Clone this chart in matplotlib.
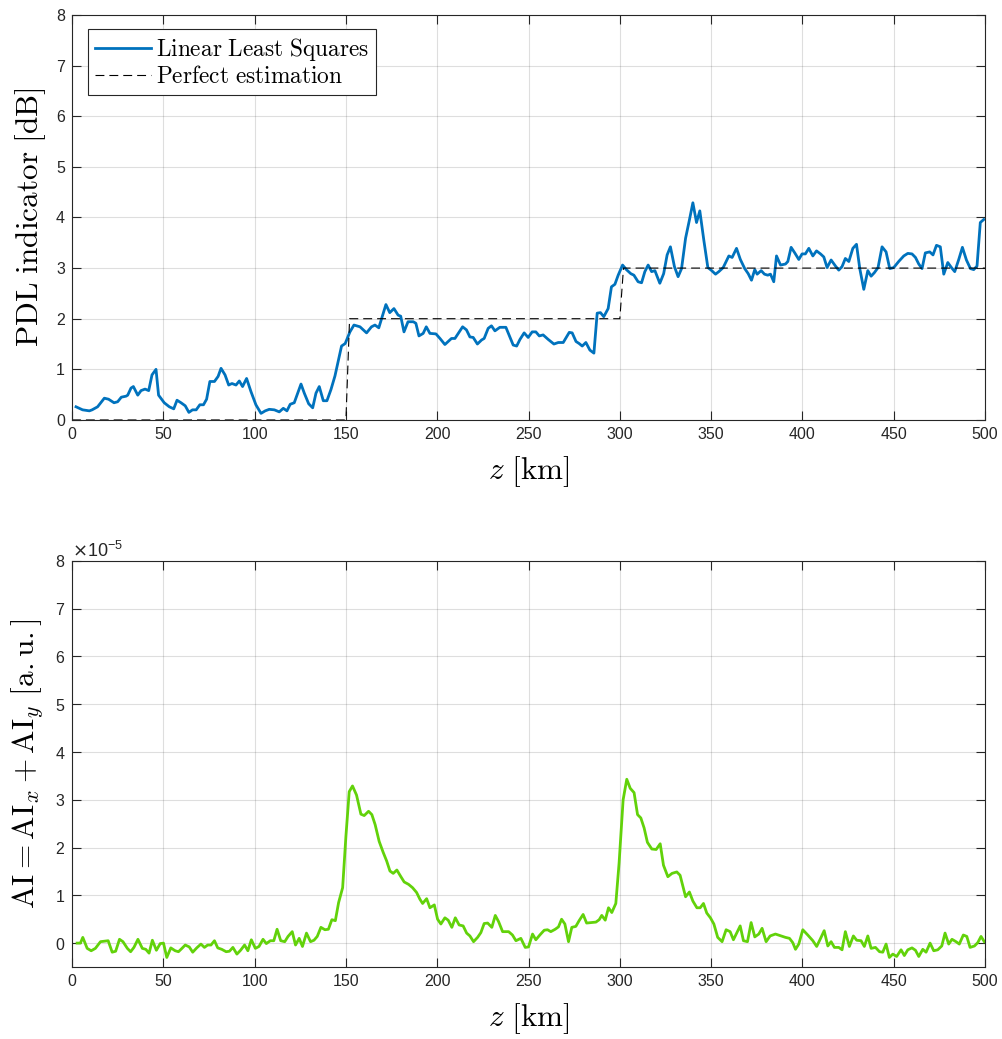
import numpy as np
import matplotlib
matplotlib.use("Agg")
import matplotlib.pyplot as plt

# ---------------- data ----------------
# PDL indicator estimated by linear least squares along the link
z_lls = [2.2, 5.8, 9.5, 11, 14, 17.7, 20, 23, 25, 27, 29.6, 30.5, 32.3, 33.6, 36, 37.8, 40, 42,
         43.8, 46, 47.4, 50.5, 53.3, 55.7, 57.5, 59.7, 62, 64, 66, 68, 70, 72, 73.7, 75.5, 78, 80,
         81.6, 83.8, 85.8, 87.6, 89.8, 91.6, 93.4, 95.6, 98, 100.7, 103.5, 105.8, 108, 110.8, 113.5,
         115.7, 117.7, 119.5, 121.7, 125.4, 127.2, 129.6, 131.8, 133.6, 135.4, 137.6, 139.6, 141.8,
         144, 147.6, 149.6, 152.2, 154.4, 157.7, 161.3, 164, 165.9, 168, 171.9, 174, 176.3, 178.6,
         180, 181.8, 184, 186.9, 188.3, 190, 192.3, 194, 196, 199.3, 201.5, 204.2, 207.8, 209.7,
         211.5, 213.9, 216, 217.9, 219.7, 222, 224.3, 225.7, 227.9, 229.7, 231.6, 234.3, 237.6,
         239.8, 241.6, 243.5, 245.3, 247.6, 249.8, 252, 254, 255.9, 258, 260.8, 263.9, 266.3, 269,
         272.3, 273.9, 276, 277.7, 279.4, 281.4, 283.6, 285.8, 287.6, 289.4, 291.2, 293.6, 295.4,
         297.3, 299.1, 301.5, 303.6, 306, 307.7, 310, 311.9, 313.7, 315.5, 317.4, 319.2, 321.9,
         324, 325.9, 327.7, 329.9, 331.9, 333.8, 336, 338.1, 340, 342, 343.8, 346, 348.2, 350,
         352.4, 354.2, 356.6, 359.7, 361.5, 363.9, 366, 368.4, 370.3, 372.1, 373.9, 375.2, 377.4,
         379.2, 381, 382.5, 384.3, 385.8, 388, 390.7, 392, 393.8, 395.8, 398, 399.8, 401.6, 403.5,
         405.7, 407.7, 409.9, 411.7, 413.5, 415.7, 418.1, 419.9, 421.7, 423.5, 425.4, 427.6, 429.6,
         431.4, 433.6, 435.8, 437.6, 439.4, 441.4, 443.6, 445.8, 447.8, 450, 452.7, 455.5, 457.7,
         460, 461.9, 463.7, 465.5, 467.3, 469.7, 471.5, 473.4, 475.5, 477.4, 479.6, 481.6, 483.4,
         485.6, 487.6, 489.8, 492, 493.8, 495.6, 497.4, 499.3]
pdl_lls = [0.26, 0.2, 0.18, 0.2, 0.26, 0.43, 0.41, 0.34, 0.36, 0.45, 0.47, 0.49, 0.63, 0.66, 0.49,
           0.58, 0.61, 0.58, 0.89, 1.0, 0.49, 0.34, 0.26, 0.22, 0.39, 0.34, 0.28, 0.15, 0.2, 0.2,
           0.3, 0.3, 0.41, 0.76, 0.76, 0.86, 1.02, 0.89, 0.69, 0.72, 0.69, 0.77, 0.66, 0.82, 0.56,
           0.3, 0.13, 0.18, 0.21, 0.2, 0.16, 0.23, 0.18, 0.31, 0.34, 0.71, 0.53, 0.32, 0.24, 0.53,
           0.66, 0.38, 0.38, 0.6, 0.87, 1.46, 1.51, 1.74, 1.875, 1.84, 1.72, 1.84, 1.875, 1.82,
           2.28, 2.12, 2.2, 2.07, 2.05, 1.74, 1.94, 1.94, 1.91, 1.66, 1.71, 1.84, 1.71, 1.7, 1.61,
           1.49, 1.61, 1.61, 1.71, 1.84, 1.78, 1.64, 1.63, 1.5, 1.58, 1.61, 1.81, 1.86, 1.76, 1.83,
           1.83, 1.64, 1.48, 1.46, 1.59, 1.72, 1.63, 1.74, 1.74, 1.66, 1.68, 1.59, 1.5, 1.53, 1.53,
           1.73, 1.72, 1.55, 1.51, 1.46, 1.53, 1.38, 1.32, 2.11, 2.12, 2.04, 2.2, 2.63, 2.68, 2.86,
           3.06, 2.97, 2.89, 2.86, 2.73, 2.71, 2.93, 3.06, 2.93, 2.95, 2.7, 2.89, 3.26, 3.42, 3.03,
           2.83, 2.99, 3.59, 3.95, 4.29, 3.9, 4.13, 3.55, 3.01, 2.96, 2.88, 2.93, 3.01, 3.24, 3.21,
           3.39, 3.17, 2.99, 2.89, 2.76, 2.97, 2.88, 2.95, 2.88, 2.86, 2.88, 2.73, 3.24, 3.06, 3.08,
           3.13, 3.41, 3.3, 3.17, 3.28, 3.28, 3.39, 3.24, 3.34, 3.28, 3.22, 3.01, 3.16, 3.04, 2.96,
           3.03, 3.19, 3.13, 3.39, 3.47, 2.99, 2.58, 2.95, 2.84, 2.91, 3.01, 3.42, 3.32, 2.99, 3.01,
           3.13, 3.24, 3.29, 3.28, 3.21, 3.08, 2.99, 3.3, 3.32, 3.26, 3.45, 3.42, 2.88, 3.11, 3.01,
           2.93, 3.17, 3.41, 3.16, 2.99, 2.97, 3.04, 3.9, 3.96]

# True PDL profile (step-wise)
z_true = [0, 150, 152, 300, 302, 500]
pdl_true = [0, 0, 2, 2, 3, 3]

# Asymmetry indicator AI = AI_x + AI_y, in units of 1e-5
z_ai = [2.8, 4.6, 5.9, 8.3, 10.5, 12.8, 15.6, 19.8, 22, 23.9, 26, 27.9, 30.3, 32.1, 33.9, 36.1,
        38.5, 40.4, 42.2, 44, 46.2, 48.3, 50.1, 51.9, 54.1, 56.5, 58.3, 60.2, 62, 64.2, 66.1, 68.3,
        70.6, 72.5, 74.3, 76.1, 78, 79.8, 82, 84.4, 86.2, 88.1, 90.3, 92.3, 94.5, 96.3, 98.2,
        100.4, 102.4, 104.6, 106.4, 108.6, 110.5, 112.3, 114.3, 116.5, 118.3, 120.6, 122.4, 124.4,
        126.2, 128.4, 130.6, 132.5, 134.3, 136.3, 138.5, 140.4, 142.3, 144.2, 146, 148.2, 150,
        151.8, 153.6, 155.8, 158.2, 160, 162.4, 164.2, 166, 168.2, 170.4, 172.3, 174.1, 175.9,
        177.9, 180.1, 181.9, 184.3, 186.5, 188.7, 190.5, 192, 194.2, 196, 198.4, 200.2, 202, 204.2,
        206, 208, 209.9, 212, 214.2, 216.1, 217.9, 219.9, 222.1, 223.9, 225.7, 227.6, 229.9, 231.8,
        233.6, 235.8, 239.1, 241.2, 243.1, 245.8, 248.2, 250, 252.2, 254, 256.2, 258.6, 260.4,
        262.2, 264.6, 266.4, 268.1, 269.9, 271.9, 273.7, 275.9, 277.7, 279.9, 281.8, 284.1, 286.9,
        288.7, 290.1, 292, 293.8, 295.6, 297.8, 299.6, 301.8, 303.8, 305.7, 307.8, 309.7, 311.5,
        313.3, 315.1, 317.5, 319.9, 322.1, 323.9, 326.3, 328.6, 331.2, 333, 336, 338.1, 340, 342.2,
        344, 345.8, 347.6, 349.6, 351.5, 353.6, 356, 358.2, 360.4, 362.2, 364.1, 365.9, 367.7,
        369.9, 371.9, 373.9, 376.1, 377.9, 380.1, 382.3, 385.2, 388.3, 390.7, 392.9, 394.7, 396.2,
        398, 400.2, 402.9, 405.7, 407.8, 409.7, 411.9, 413.9, 415.7, 417.5, 419.9, 421.7, 423.5,
        425.7, 427.9, 429.7, 432.1, 433.9, 435.8, 437.6, 440, 442.2, 444, 445.8, 447.6, 449.5,
        451.6, 454, 455.8, 457.7, 460, 461.9, 463.7, 465.9, 467.7, 469.9, 471.9, 474.1, 476.3,
        478.1, 480.1, 481.9, 484.1, 485.9, 488.1, 490, 491.8, 494.2, 496, 497.8, 499.6]
ai_vals = [0, 0, 0.12, -0.11, -0.16, -0.11, 0.03, 0.05, -0.19, -0.17, 0.08, 0.03, -0.11, -0.18,
           -0.09, 0.08, -0.11, -0.13, -0.21, 0.06, -0.15, -0.01, 0, -0.3, -0.1, -0.16, -0.18, -0.11,
           -0.04, -0.08, -0.19, -0.1, -0.02, -0.09, -0.04, -0.04, 0.05, -0.1, -0.13, -0.18, -0.17,
           -0.09, -0.23, -0.15, -0.04, -0.16, 0.07, -0.11, -0.07, 0.08, -0.01, 0.05, 0.05, 0.29,
           0.05, 0.03, 0.14, 0.24, -0.04, 0.1, -0.07, 0.21, 0.03, 0.06, 0.14, 0.33, 0.28, 0.29, 0.49,
           0.47, 0.85, 1.16, 2.24, 3.17, 3.29, 3.1, 2.7, 2.67, 2.76, 2.69, 2.48, 2.13, 1.9, 1.72,
           1.51, 1.46, 1.53, 1.39, 1.28, 1.23, 1.16, 1.06, 0.92, 0.83, 0.93, 0.74, 0.8, 0.5, 0.4,
           0.53, 0.48, 0.33, 0.53, 0.38, 0.36, 0.21, 0.15, 0.03, 0.12, 0.22, 0.41, 0.42, 0.33, 0.58,
           0.45, 0.24, 0.24, 0.17, 0.05, 0.1, -0.09, -0.08, 0.19, 0.07, 0.17, 0.27, 0.28, 0.24, 0.29,
           0.34, 0.5, 0.4, 0.03, 0.33, 0.35, 0.47, 0.6, 0.42, 0.43, 0.44, 0.49, 0.58, 0.48, 0.74,
           0.64, 0.83, 1.68, 3.0, 3.43, 3.24, 3.15, 2.69, 2.62, 2.41, 2.11, 1.97, 1.96, 2.08, 1.63,
           1.39, 1.46, 1.49, 1.42, 0.97, 1.07, 0.88, 0.74, 0.74, 0.83, 0.63, 0.53, 0.4, 0.12, 0.03,
           0.28, 0.24, 0.07, 0.22, 0.36, 0.05, 0.03, 0.43, 0.13, 0.19, 0.31, 0.03, 0.15, 0.19, 0.15,
           0.12, 0.1, 0.01, -0.13, -0.02, 0.28, 0.17, 0.05, -0.07, 0.08, 0.26, -0.06, 0.03, -0.09,
           -0.09, -0.14, 0.24, -0.07, 0.15, 0.06, 0.05, -0.07, 0.15, -0.11, -0.09, -0.18, -0.19,
           -0.02, -0.3, -0.23, -0.28, -0.14, -0.26, -0.14, -0.1, -0.15, -0.28, -0.13, -0.19, 0,
           -0.16, -0.14, -0.06, 0.21, -0.02, 0.08, 0.03, -0.02, 0.17, 0.14, -0.09, -0.06, 0.01,
           0.14, 0.03]
ai_scale = 1e-5

# ---------------- styling ----------------
plt.rcParams["font.family"] = ["Liberation Sans", "DejaVu Sans"]
plt.rcParams["mathtext.fontset"] = "cm"
AX_COLOR = "#262626"
BLUE = "#0072BD"
GREEN = "#62D20A"
LABEL_SIZE = 22.5

fig = plt.figure(figsize=(10.03, 10.39), dpi=100)
ax1 = fig.add_axes([0.0718, 0.5958, 0.9103, 0.3898])
ax2 = fig.add_axes([0.0718, 0.0693, 0.9103, 0.3908])


def style_axes(ax):
    ax.set_xlim(0, 500)
    ax.set_xticks(np.arange(0, 501, 50))
    ax.grid(True, color=AX_COLOR, alpha=0.15, linewidth=0.8)
    ax.set_axisbelow(True)
    ax.tick_params(direction="in", length=6.5, width=0.8, top=True, right=True,
                   labelsize=11.5, colors=AX_COLOR, pad=5)
    for sp in ax.spines.values():
        sp.set_color(AX_COLOR)
        sp.set_linewidth(0.8)
    ax.set_xlabel(r"$z\ \mathrm{[km]}$", fontsize=LABEL_SIZE, labelpad=9)


# ---- top panel: PDL indicator ----
ax1.plot(z_lls, pdl_lls, color=BLUE, linewidth=2.0,
         label=r"$\mathrm{Linear\ Least\ Squares}$")
ax1.plot(z_true, pdl_true, color="black", linestyle=(0, (8, 4.5)), linewidth=0.8,
         label=r"$\mathrm{Perfect\ estimation}$")
ax1.set_ylim(0, 8)
ax1.set_yticks(np.arange(0, 9, 1))
style_axes(ax1)
ax1.set_ylabel(r"$\mathrm{PDL\ indicator\ [dB]}$", fontsize=LABEL_SIZE, labelpad=6)
leg = ax1.legend(loc="upper left", bbox_to_anchor=(0.0175, 0.965), borderaxespad=0,
                 fontsize=16.8, fancybox=False, framealpha=1, edgecolor=AX_COLOR,
                 handlelength=2.4, handletextpad=0.2, borderpad=0.3, labelspacing=0.1)
leg.get_frame().set_linewidth(0.8)

# ---- bottom panel: asymmetry indicator ----
ax2.plot(z_ai, np.array(ai_vals) * ai_scale, color=GREEN, linewidth=2.0)
ax2.set_ylim(-0.5e-5, 8e-5)
ax2.set_yticks(np.arange(0, 9, 1) * 1e-5)
ax2.ticklabel_format(axis="y", style="sci", scilimits=(0, 0), useMathText=True)
style_axes(ax2)
ax2.yaxis.get_offset_text().set_fontsize(13)
ax2.yaxis.get_offset_text().set_color(AX_COLOR)
ax2.yaxis.get_offset_text().set_math_fontfamily("dejavusans")
ax2.set_ylabel(r"$\mathrm{AI} = \mathrm{AI}_x + \mathrm{AI}_y\ \mathrm{[a.u.]}$",
               fontsize=LABEL_SIZE, labelpad=6)

fig.savefig("out.png", dpi=100)
